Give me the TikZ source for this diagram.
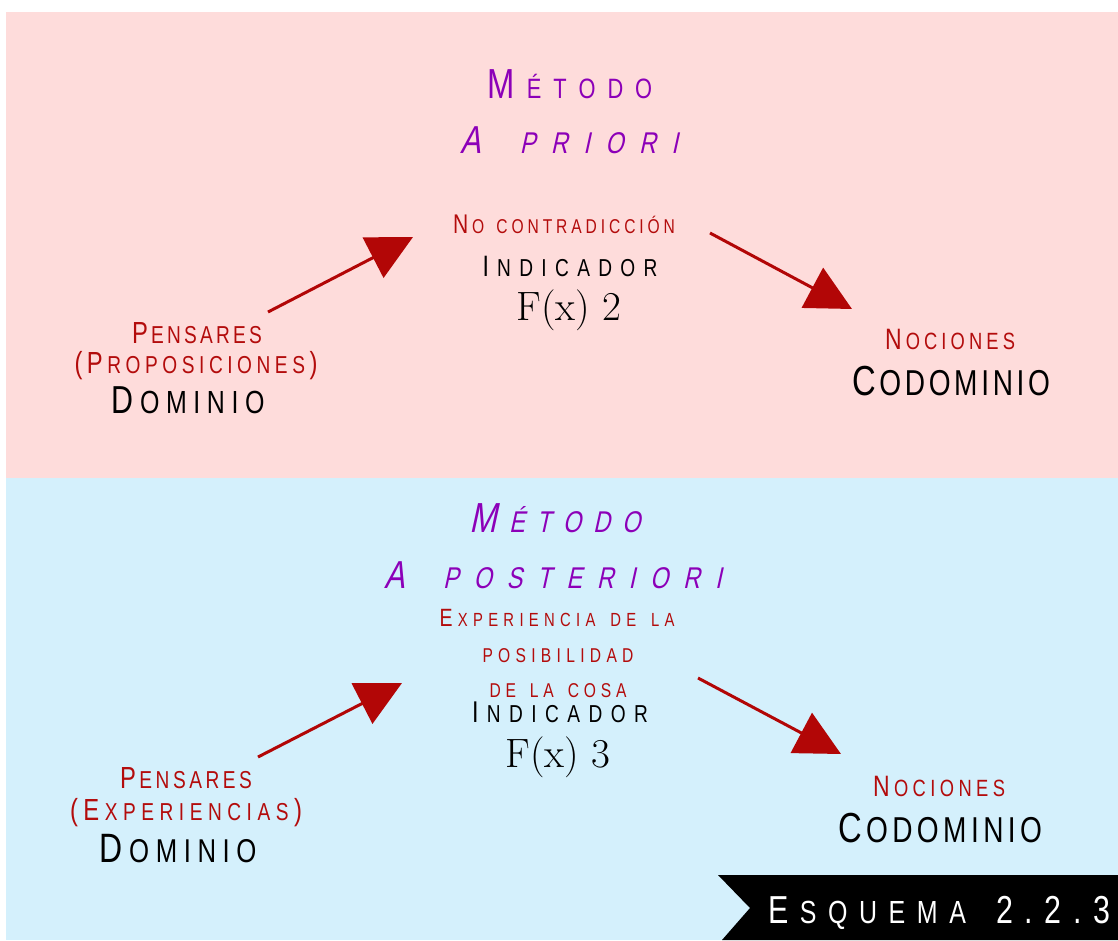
\documentclass[tikz,border=0pt]{standalone}
\usepackage{fontspec}
\usetikzlibrary{arrows.meta}
\newfontfamily\lblfont[FakeStretch=0.78]{Liberation Sans}
\newfontfamily\lblitfont[FakeStretch=0.78,FakeSlant=0.22]{Liberation Sans}

% Spaced small capitals set to a given width:
% \trk{width}{capital size}{small size}{text}, where \L and \S in the text
% switch between the two sizes and the gaps between letters are equal.
\ExplSyntaxOn
\int_new:N \l__trk_int
\dim_new:N \l__trk_dim
\box_new:N \l__trk_box
\NewDocumentCommand \trk { m m m m }
  {
    \group_begin:
    \cs_set:Npn \L { \fontsize{#2}{#2}\selectfont }
    \cs_set:Npn \S { \fontsize{#3}{#3}\selectfont }
    \hbox_set:Nn \l__trk_box { #4 }
    \int_zero:N \l__trk_int
    \tl_map_inline:nn {#4}
      {
        \tl_if_single_token:nTF {##1}
          { \token_if_cs:NTF ##1 { } { \int_incr:N \l__trk_int } }
          { \int_incr:N \l__trk_int }
      }
    \int_decr:N \l__trk_int
    \dim_set:Nn \l__trk_dim { ( \dim_eval:n {#1} - \box_wd:N \l__trk_box ) / \l__trk_int }
    \tl_map_inline:nn {#4}
      {
        \tl_if_single_token:nTF {##1}
          { \token_if_cs:NTF ##1 { ##1 } { ##1 \kern \l__trk_dim } }
          { ##1 \kern \l__trk_dim }
      }
    \kern -\l__trk_dim
    \group_end:
  }
\ExplSyntaxOff

\definecolor{bgpink}{HTML}{FEDCDB}
\definecolor{bgblue}{HTML}{D4F0FC}
\definecolor{lblred}{HTML}{B30C0C}
\definecolor{arrred}{HTML}{B20606}
\definecolor{violet}{HTML}{8C00B8}
\tikzset{
  txt/.style={inner sep=0pt, anchor=base},
  title/.style={txt, text=violet, font=\lblfont},
  titleit/.style={txt, text=violet, font=\lblitfont},
  redl/.style={txt, text=lblred, font=\lblfont},
  blk/.style={txt, text=black, font=\lblfont},
  fx/.style={txt, text=black, font=\fontsize{41}{41}\selectfont},
  maparrow/.style={draw=arrred, line width=3pt, -{Triangle[length=45pt,width=45pt]}, fill=arrred}
}
\begin{document}
\begin{tikzpicture}[x=1pt,y=-1pt]
\useasboundingbox (0,0) rectangle (1118,940);
\fill[white] (0,0) rectangle (1118,940);
\fill[bgpink] (6,12) rectangle (1118,478);
\fill[bgblue] (6,478) rectangle (1118,940);

% a priori method
\node[title] (m1) at (570,98) {\trk{164pt}{42}{28}{\L M\S ÉTODO}};
\node[titleit] (a1) at (569,153) {\trk{218pt}{39}{30}{\L A~\S PRIORI}};
\node[redl] (nc) at (564,233) {\trk{222pt}{27}{20}{\L N\S O~CONTRADICCIÓN}};
\node[blk] (ind1) at (570,276) {\trk{175pt}{29.5}{24.5}{\L I\S NDICADOR}};
\node[fx] (f1) at (569,320) {F(x) 2};
\node[redl] (pen1) at (197,343) {\trk{130pt}{30.5}{24.5}{\L P\S ENSARES}};
\node[redl] (prop) at (196,373) {\trk{243pt}{30.5}{24.5}{\L(P\S ROPOSICIONES\L)}};
\node[blk] (dom1) at (188,413) {\trk{153pt}{39}{32}{\L D\S OMINIO}};
\node[redl] (noc1) at (950,349) {\trk{130pt}{29.5}{23.5}{\L N\S OCIONES}};
\node[blk] (cod1) at (951,395) {\trk{198pt}{42}{36}{\L C\S ODOMINIO}};

\coordinate (s1) at (268,312);
\coordinate (t1) at (413,237);
\coordinate (s2) at (710,233);
\coordinate (t2) at (852,309);
\draw[maparrow] (s1) -- (t1);
\draw[maparrow] (s2) -- (t2);

% a posteriori method
\node[titleit] (m2) at (555,532) {\trk{170pt}{42}{30}{\L M\S ÉTODO}};
\node[titleit] (a2) at (553,588) {\trk{337pt}{39}{30}{\L A~\S POSTERIORI}};
\node[redl] (exp1) at (557,626) {\trk{235pt}{25}{19}{\L E\S XPERIENCIA~DE~LA}};
\node[redl] (pos) at (558,662) {\trk{151pt}{25}{20}{\S POSIBILIDAD}};
\node[redl] (dlc) at (558,697) {\trk{137pt}{25}{20}{\S DE~LA~COSA}};
\node[blk] (ind2) at (560,722) {\trk{176pt}{30}{24.5}{\L I\S NDICADOR}};
\node[fx] (f2) at (558,767) {F(x) 3};
\node[redl] (pen2) at (186,788) {\trk{132pt}{30.5}{24.5}{\L P\S ENSARES}};
\node[redl] (exps) at (186,820) {\trk{232pt}{30.5}{24.5}{\L(E\S XPERIENCIAS\L)}};
\node[blk] (dom2) at (178,862) {\trk{157pt}{41}{33}{\L D\S OMINIO}};
\node[redl] (noc2) at (939,796) {\trk{132pt}{29.5}{23.5}{\L N\S OCIONES}};
\node[blk] (cod2) at (940,842) {\trk{204pt}{42}{36}{\L C\S ODOMINIO}};

\coordinate (s3) at (258,757);
\coordinate (t3) at (402,683);
\coordinate (s4) at (698,678);
\coordinate (t4) at (841,754);
\draw[maparrow] (s3) -- (t3);
\draw[maparrow] (s4) -- (t4);

% caption banner
\fill[black] (718,875) -- (1118,875) -- (1118,940) -- (722,940) -- (750,908) -- cycle;
\node[txt, text=white, font=\lblfont] (esq) at (939,923) {\trk{342pt}{39}{32}{\L E\S SQUEMA~\L 2.2.3}};
\end{tikzpicture}
\end{document}
